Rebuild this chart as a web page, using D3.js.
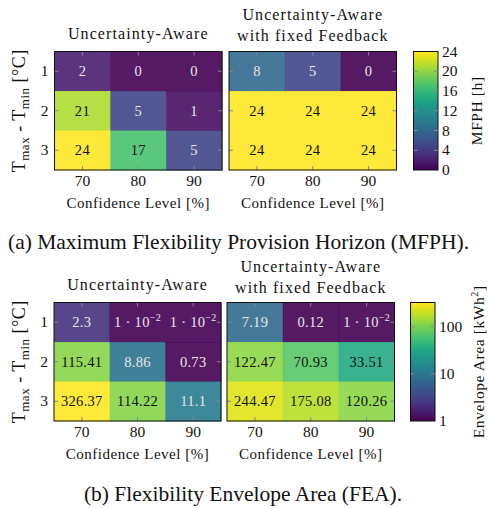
<!DOCTYPE html>
<html>
<head>
<meta charset="utf-8">
<script src="https://cdn.jsdelivr.net/npm/d3@7"></script>
<style>
  body { margin: 0; background: #fff; }
  svg { display: block; }
</style>
</head>
<body>
<script>
// data
var confidence = [70, 80, 90];
var tempRange = [1, 2, 3];

var mfphAware = [[2, 0, 0], [21, 5, 1], [24, 17, 5]];
var mfphFixed = [[8, 5, 0], [24, 24, 24], [24, 24, 24]];
var mfphTicks = [0, 4, 8, 12, 16, 20, 24];

var feaAware = [[2.3, 0.01, 0.01], [115.41, 8.86, 0.73], [326.37, 114.22, 11.1]];
var feaFixed = [[7.19, 0.12, 0.01], [122.47, 70.93, 33.51], [244.47, 175.08, 120.26]];
var feaTicks = [1, 10, 100];

var titleAware = ['Uncertainty-Aware'];
var titleFixed = ['Uncertainty-Aware', 'with fixed Feedback'];

var width = 489,
    height = 508;

var svg = d3.select('body').append('svg')
    .attr('width', width)
    .attr('height', height);

var mfphNorm = d3.scaleLinear().domain([0, 24]).range([0, 1]).clamp(true);
var feaNorm = d3.scaleLog().domain([1, 326.37]).range([0, 1]).clamp(true);

// write a cell value, 0.01 becomes 1 · 10^-2
function writeValue(t, v, isLog) {
    if (isLog && v < 0.05) {
        t.append('tspan').text('1 \u00b7 10');
        t.append('tspan').attr('dy', -6).style('font-size', '10px').text('\u22122');
    } else {
        t.text(isLog ? d3.format('.4~f')(v) : v);
    }
}

function panel(p) {
    var g = svg.append('g');
    var x = d3.scaleBand().domain(confidence).range([p.x0, p.x1]);
    var y = d3.scaleBand().domain(tempRange).range([p.y0, p.y1]);

    var rows = [];
    p.values.forEach(function (row, i) {
        row.forEach(function (v, j) {
            rows.push({ r: tempRange[i], c: confidence[j], v: v });
        });
    });

    g.selectAll('rect.cell').data(rows).enter().append('rect')
        .attr('class', 'cell')
        .attr('x', function (d) { return x(d.c); })
        .attr('y', function (d) { return y(d.r); })
        .attr('width', x.bandwidth() + 0.5)
        .attr('height', y.bandwidth() + 0.5)
        .attr('fill', function (d) { return d3.interpolateViridis(p.norm(d.v)); })
        .attr('fill-opacity', 0.9);

    // small gray ticks inside the frame
    var tk = 4;
    confidence.forEach(function (c) {
        var cx = x(c) + x.bandwidth() / 2;
        g.append('line').attr('x1', cx).attr('x2', cx).attr('y1', p.y0).attr('y2', p.y0 + tk);
        g.append('line').attr('x1', cx).attr('x2', cx).attr('y1', p.y1).attr('y2', p.y1 - tk);
    });
    tempRange.forEach(function (r) {
        var cy = y(r) + y.bandwidth() / 2;
        g.append('line').attr('x1', p.x0).attr('x2', p.x0 + tk).attr('y1', cy).attr('y2', cy);
        g.append('line').attr('x1', p.x1).attr('x2', p.x1 - tk).attr('y1', cy).attr('y2', cy);
    });
    g.selectAll('line').attr('stroke', '#888').attr('stroke-width', 1);

    g.selectAll('text.val').data(rows).enter().append('text')
        .attr('class', 'val')
        .attr('x', function (d) { return x(d.c) + x.bandwidth() / 2; })
        .attr('y', function (d) { return y(d.r) + y.bandwidth() / 2 + 5; })
        .attr('text-anchor', 'middle')
        .style('font-size', '14.5px')
        .style('letter-spacing', '0.3px')
        .style('fill', function (d) { return p.norm(d.v) < 0.55 ? '#e6e6e6' : '#111'; })
        .each(function (d) { writeValue(d3.select(this), d.v, p.isLog); });

    g.append('rect')
        .attr('x', p.x0).attr('y', p.y0)
        .attr('width', p.x1 - p.x0).attr('height', p.y1 - p.y0)
        .attr('fill', 'none').attr('stroke', '#111').attr('stroke-width', 1);

    // x tick labels
    g.selectAll('text.xt').data(confidence).enter().append('text')
        .attr('x', function (d) { return x(d) + x.bandwidth() / 2; })
        .attr('y', p.y1 + 16)
        .attr('text-anchor', 'middle')
        .style('font-size', '15.5px')
        .text(function (d) { return d; });

    g.append('text')
        .attr('x', (p.x0 + p.x1) / 2)
        .attr('y', p.y1 + 38)
        .attr('text-anchor', 'middle')
        .style('font-size', '15px')
        .style('letter-spacing', '0.5px')
        .text('Confidence Level [%]');

    if (p.yLabels) {
        g.selectAll('text.yt').data(tempRange).enter().append('text')
            .attr('x', p.x0 - 6)
            .attr('y', function (d) { return y(d) + y.bandwidth() / 2 + 5; })
            .attr('text-anchor', 'end')
            .style('font-size', '15.5px')
            .text(function (d) { return d; });

        var yl = g.append('text')
            .attr('transform', 'translate(25,' + (p.y0 + p.y1) / 2 + ') rotate(-90)')
            .attr('text-anchor', 'middle')
            .style('font-size', '18px')
            .style('letter-spacing', '0.5px');
        yl.append('tspan').text('T');
        yl.append('tspan').attr('dy', 4).style('font-size', '13px').text('max');
        yl.append('tspan').attr('dy', -4).text(' - T');
        yl.append('tspan').attr('dy', 4).style('font-size', '13px').text('min');
        yl.append('tspan').attr('dy', -4).text(' [\u00b0C]');
    }

    p.title.forEach(function (line, i) {
        g.append('text')
            .attr('x', (p.x0 + p.x1) / 2)
            .attr('y', p.titleY + i * 21)
            .attr('text-anchor', 'middle')
            .style('font-size', '16px')
            .style('letter-spacing', '1.1px')
            .text(line);
    });
}

function colorbar(c) {
    var g = svg.append('g');
    var id = 'grad' + c.id;
    var grad = svg.append('defs').append('linearGradient')
        .attr('id', id).attr('x1', 0).attr('x2', 0).attr('y1', 1).attr('y2', 0);
    d3.range(0, 1.0001, 0.05).forEach(function (t) {
        grad.append('stop').attr('offset', t).attr('stop-color', d3.interpolateViridis(t));
    });
    var s = c.scale.copy().range([c.y1, c.y0]);
    g.append('rect')
        .attr('x', c.x0).attr('y', c.y0)
        .attr('width', c.x1 - c.x0).attr('height', c.y1 - c.y0)
        .attr('fill', 'url(#' + id + ')')
        .attr('stroke', '#111');
    c.ticks.forEach(function (t) {
        var ty = s(t);
        if (ty > c.y0 + 2 && ty < c.y1 - 2) {
            g.append('line').attr('x1', c.x0).attr('x2', c.x0 + 4).attr('y1', ty).attr('y2', ty).attr('stroke', '#888');
            g.append('line').attr('x1', c.x1).attr('x2', c.x1 - 4).attr('y1', ty).attr('y2', ty).attr('stroke', '#888');
        }
        g.append('text')
            .attr('x', c.x1 + 4)
            .attr('y', ty + 5)
            .style('font-size', '15.5px')
            .text(t);
    });
    var lab = g.append('text')
        .attr('transform', 'translate(' + c.labelX + ',' + (c.y0 + c.y1) / 2 + ') rotate(-90)')
        .attr('text-anchor', 'middle')
        .style('font-size', '15.5px')
        .style('letter-spacing', '0.6px');
    lab.append('tspan').text(c.label);
    if (c.sup) {
        lab.append('tspan').attr('dy', -6).style('font-size', '10px').text(c.sup);
        lab.append('tspan').attr('dy', 6).text(']');
    }
}

// (a) MFPH
panel({ x0: 54.5, x1: 222, y0: 51.5, y1: 170, values: mfphAware, norm: mfphNorm,
        isLog: false, yLabels: true, title: titleAware, titleY: 39 });
panel({ x0: 229, x1: 396.5, y0: 51.5, y1: 170, values: mfphFixed, norm: mfphNorm,
        isLog: false, yLabels: false, title: titleFixed, titleY: 20 });
colorbar({ id: 'a', x0: 413.5, x1: 438, y0: 51.5, y1: 170,
           scale: d3.scaleLinear().domain([0, 24]), ticks: mfphTicks,
           label: 'MFPH [h]', labelX: 482 });

// (b) FEA
panel({ x0: 54, x1: 221, y0: 302.5, y1: 421, values: feaAware, norm: feaNorm,
        isLog: true, yLabels: true, title: titleAware, titleY: 290 });
panel({ x0: 227, x1: 394.5, y0: 302.5, y1: 421, values: feaFixed, norm: feaNorm,
        isLog: true, yLabels: false, title: titleFixed, titleY: 272 });
colorbar({ id: 'b', x0: 410.5, x1: 435, y0: 302.5, y1: 421,
           scale: d3.scaleLog().domain([1, 326.37]), ticks: feaTicks,
           label: 'Envelope Area [kWh', sup: '2', labelX: 484 });

svg.append('text')
    .attr('x', 238.5).attr('y', 249)
    .attr('text-anchor', 'middle')
    .style('font-size', '21.5px')
    .text('(a) Maximum Flexibility Provision Horizon (MFPH).');

svg.append('text')
    .attr('x', 243).attr('y', 501)
    .attr('text-anchor', 'middle')
    .style('font-size', '21.5px')
    .text('(b) Flexibility Envelope Area (FEA).');

// serif everywhere, set on each text node
svg.selectAll('text')
    .style('font-family', "'Liberation Serif'")
    .filter(function () { return !this.style.fill; })
    .style('fill', '#111');
</script>
</body>
</html>
